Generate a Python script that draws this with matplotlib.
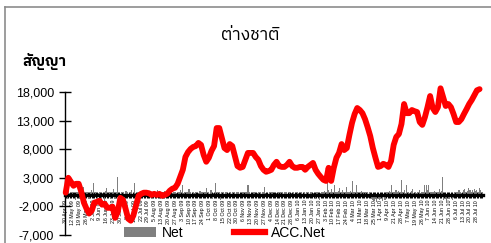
import numpy as np
import matplotlib
matplotlib.use("Agg")
import matplotlib.pyplot as plt
from matplotlib import font_manager as fm
from matplotlib.lines import Line2D
from matplotlib.patches import Patch
from matplotlib.ticker import FuncFormatter

# ---------------- data ----------------
title = "ต่างชาติ"
y_label = "สัญญา"
series_names = ["Net", "ACC.Net"]

tick_labels = [
    "30 Apr 09", "12 May 09", "19 May 09", "26 May 09", "2 Jun 09", "9 Jun 09",
    "16 Jun 09", "23 Jun 09", "30 Jun 09", "8 Jul 09", "15 Jul 09", "22 Jul 09",
    "29 Jul 09", "5 Aug 09", "13 Aug 09", "20 Aug 09", "27 Aug 09", "3 Sep 09",
    "10 Sep 09", "17 Sep 09", "24 Sep 09", "1 Oct 09", "8 Oct 09", "15 Oct 09",
    "22 Oct 09", "30 Oct 09", "6 Nov 09", "13 Nov 09", "20 Nov 09", "27 Nov 09",
    "4 Dec 09", "14 Dec 09", "21 Dec 09", "28 Dec 09", "6 Jan 10", "13 Jan 10",
    "20 Jan 10", "27 Jan 10", "3 Feb 10", "10 Feb 10", "17 Feb 10", "24 Feb 10",
    "4 Mar 10", "11 Mar 10", "18 Mar 10", "25 Mar 10", "1 Apr 10", "9 Apr 10",
    "21 Apr 10", "28 Apr 10", "7 May 10", "19 May 10", "26 May 10", "7 Jun 10",
    "14 Jun 10", "21 Jun 10", "28 Jun 10", "6 Jul 10", "13 Jul 10", "20 Jul 10",
    "28 Jul 10",
]

# daily net (contracts), one value per trading day
net = [
    300, -500, 800, 400, -300, 600, 200, -800, 500, 300, -600, 400, 700, 1400, -400, 300, 500, -700, 600, 900,
    2100, -300, 500, -900, 400, 600, -500, 300, -1000, 700, 1250, -400, 500, -700, 300, 1000, -600, 400, 3150, -1200,
    -800, 500, 300, -600, 700, 400, -300, 500, 800, -400, 2100, 300, -500, 600, 400, -300, 500, 200, -400, 300,
    400, -200, 300, 500, -300, 200, 400, 900, -200, 300, 200, 500, 700, -300, 400, 200, 600, -200, 300, 500,
    400, 300, 600, 500, 800, 1800, 400, 600, 300, 500, 1000, 400, -300, 600, 300, 500, 200, 400, 700, 300,
    500, 300, 600, 1250, 400, 200, 800, -600, 300, 2100, -400, 500, 600, -800, 300, 400, -300, 500, 200, 400,
    300, 200, 600, 400, -200, 300, 500, 200, -300, 400, 600, 300, 500, 1800, 400, 200, -400, 300, 500, 200,
    300, 600, 400, 200, 500, 1400, 300, 200, -300, 400, 300, 500, 200, -200, 300, 400, 200, 500, 300, 200,
    400, 300, -200, 500, 200, 300, 400, -300, 200, 500, 300, 200, 400, -400, 300, 200, 500, 400, -500, 300,
    200, 400, -600, 300, 500, -800, 400, 600, 300, 700, 500, 2300, 800, 400, 1000, 600, 1800, 500, 300, 700,
    1200, 400, 800, 300, 600, 1400, 500, 300, 700, 2450, 400, 600, 1800, 500, -300, 400, 700, 300, -400, 500,
    300, -600, 400, -500, -800, -1000, -700, -1200, -600, -900, -500, -1100, -400, -800, 300, 500, 700, 400, 1800, 600,
    500, 900, 400, 700, 600, 2650, 500, 800, 400, 1800, 600, 300, 700, 1000, 400, 600, 300, 500, 800, 400,
    600, 300, 1800, 1700, 900, 1800, 400, 600, 300, 700, 500, 400, 600, 1000, 700, 3150, -800, -600, -1000, -500,
    -700, -400, -900, -600, 400, 300, 500, 900, 600, 400, 800, 1000, 600, 700, 1200, 800, 500, 900, 1100, 700,
    900, 600, 1200, 800, 500,
]

# accumulated net, read about every second trading day (first to last plotted day)
acc_net = [
    400, 3000, 2300, 1600, 1950, 1950, 550, -1350, -2400, -3250,
    -2750, -1350, -1200, -1000, -1700, -1550, -2250, -2250, -2050, -4000,
    -2950, -500, -850, -2400, -4150, -4500, -3600, -1900, -150, 200,
    400, 400, 300, 0, 200, 0, 200, -150, 0, 200,
    750, 1100, 1250, 1950, 3150, 4400, 6650, 7500, 8050, 8400,
    8550, 9100, 8750, 7000, 5800, 6500, 7700, 8550, 11700, 11700,
    9950, 8200, 7850, 8900, 8550, 6800, 5050, 4750, 4900, 6150,
    7350, 7350, 7350, 6650, 6150, 5050, 4400, 4050, 4200, 4400,
    5250, 5800, 5050, 4900, 4900, 5250, 5800, 5050, 4750, 4750,
    4900, 4900, 4400, 4900, 5250, 5600, 4400, 3700, 3150, 2650,
    2450, 4750, 2450, 4750, 6500, 7350, 8900, 7850, 8200, 10500,
    12600, 14150, 15200, 14850, 14300, 13250, 11850, 10300, 8200, 6500,
    4900, 5050, 5450, 5250, 4900, 5950, 8750, 10150, 10650, 12400,
    15900, 14300, 14300, 14850, 14650, 14500, 12750, 12250, 13600, 15350,
    17300, 15200, 14500, 15350, 18650, 17100, 15550, 15900, 15350, 14150,
    12750, 12750, 13250, 14150, 15000, 15900, 16600, 17450, 18300, 18500,
]
acc_last_day = 302

y_ticks = [-7000, -2000, 3000, 8000, 13000, 18000]


# ---------------- fonts ----------------
def find_thai_family():
    try:
        from fontTools.ttLib import TTFont
    except Exception:
        return None
    best = None
    for f in fm.fontManager.ttflist:
        try:
            tt = TTFont(f.fname, fontNumber=0, lazy=True)
            cmap = tt.getBestCmap() or {}
            if 0x0E15 in cmap and 0x0E0D in cmap and 0x0E48 in cmap:
                if best is None or "Sans" in f.name:
                    best = f.name
                    if "Sans" in f.name:
                        break
        except Exception:
            continue
    return best


thai = find_thai_family()
base = ["Liberation Sans", "DejaVu Sans"]
thai_fam = ([thai] if thai else []) + base
plt.rcParams["font.family"] = base

# ---------------- figure ----------------
W, H = 491, 243
fig = plt.figure(figsize=(W / 100, H / 100), dpi=100)
ax = fig.add_axes([65 / W, 8 / H, 418 / W, 143 / H])

n = len(net)
days = np.arange(n)
ax.bar(days, net, width=0.8, color="#7f7f7f", zorder=2, linewidth=0)
acc_x = np.linspace(0, acc_last_day, len(acc_net))
ax.plot(acc_x, acc_net, color="#ff0000", lw=4.2, zorder=4, clip_on=False,
        solid_joinstyle="round", solid_capstyle="round")

ax.set_xlim(-0.5, n - 0.5)
ax.set_ylim(-7000, 18000)

for s in ("top", "right"):
    ax.spines[s].set_visible(False)
ax.spines["bottom"].set_position(("data", 0))
ax.spines["bottom"].set_linewidth(2.4)
ax.spines["bottom"].set_zorder(3)
ax.spines["left"].set_linewidth(1.0)

ax.set_yticks(y_ticks)
ax.yaxis.set_major_formatter(FuncFormatter(lambda v, p: f"{v:,.0f}"))
ax.tick_params(axis="y", direction="inout", length=8, width=1.0, labelsize=9, pad=4)

ax.set_xticks(np.arange(0, n, 5)[: len(tick_labels)])
ax.set_xticklabels(tick_labels, rotation=90, fontsize=3.8)
ax.set_xticks(days, minor=True)
ax.tick_params(axis="x", which="both", direction="inout", length=5, width=0.7, pad=1)

fig.text(250 / W, 1 - 35 / H, title, ha="center", va="center", fontsize=12.5,
         family=thai_fam)
fig.text(44 / W, 1 - 61 / H, y_label, ha="center", va="center", fontsize=10.5,
         fontweight="bold", family=thai_fam)

handles = [Patch(facecolor="#7f7f7f", edgecolor="none"),
           Line2D([], [], color="#ff0000", lw=4.5)]
fig.legend(handles, series_names, loc="center", ncol=2,
           bbox_to_anchor=(225 / W, 10 / H), frameon=False, fontsize=10,
           handlelength=2.3, handletextpad=0.4, columnspacing=3.6,
           borderpad=0, borderaxespad=0)

# outer chart border (top and left visible in the crop)
fig.add_artist(Line2D([5 / W, 1], [1 - 7 / H, 1 - 7 / H], color="#8c8c8c", lw=1.2,
                      transform=fig.transFigure))
fig.add_artist(Line2D([5 / W, 5 / W], [0, 1 - 7 / H], color="#8c8c8c", lw=1.2,
                      transform=fig.transFigure))

fig.savefig("out.png", dpi=100)
